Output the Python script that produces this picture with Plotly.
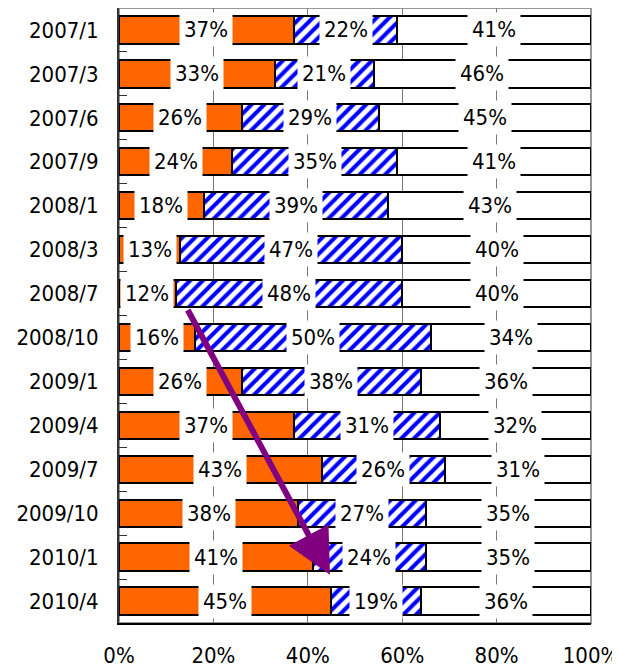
import plotly.graph_objects as go

categories = ["2007/1", "2007/3", "2007/6", "2007/9", "2008/1", "2008/3", "2008/7",
              "2008/10", "2009/1", "2009/4", "2009/7", "2009/10", "2010/1", "2010/4"]
orange_vals = [37, 33, 26, 24, 18, 13, 12, 16, 26, 37, 43, 38, 41, 45]
striped_vals = [22, 21, 29, 35, 39, 47, 48, 50, 38, 31, 26, 27, 24, 19]
white_vals = [41, 46, 45, 41, 43, 40, 40, 34, 36, 32, 31, 35, 35, 36]
x_ticks = [0, 20, 40, 60, 80, 100]
x_tick_labels = ["0%", "20%", "40%", "60%", "80%", "100%"]

FONT = "DejaVu Sans Condensed, Noto Sans CJK JP, sans-serif"

fig = go.Figure()
fig.add_trace(go.Bar(y=categories, x=orange_vals, orientation="h",
                     marker=dict(color="#FF6600", line=dict(color="black", width=2)),
                     hoverinfo="skip"))
fig.add_trace(go.Bar(y=categories, x=striped_vals, orientation="h",
                     marker=dict(color="white", line=dict(color="black", width=2),
                                 pattern=dict(shape="/", fgcolor="#0000FF", bgcolor="white",
                                              size=9, solidity=0.45, fillmode="replace",
                                              fgopacity=1)),
                     hoverinfo="skip"))
fig.add_trace(go.Bar(y=categories, x=white_vals, orientation="h",
                     marker=dict(color="white", line=dict(color="black", width=2)),
                     hoverinfo="skip"))

annotations = []
for i, c in enumerate(categories):
    start = 0
    for v in (orange_vals[i], striped_vals[i], white_vals[i]):
        annotations.append(dict(x=start + v / 2, y=c, xref="x", yref="y", text=f"{v}%",
                                showarrow=False, bgcolor="white", borderpad=4,
                                font=dict(family=FONT, size=22, color="black")))
        start += v

# purple arrow
annotations.append(dict(x=44.7, y=12.4, ax=14.4, ay=6.34, xref="x", yref="y",
                        axref="x", ayref="y", text="", showarrow=True,
                        arrowhead=2, arrowsize=1.5, arrowwidth=6, arrowcolor="#800080"))

fig.update_layout(
    barmode="stack", bargap=0.38, showlegend=False,
    width=612, height=661, margin=dict(l=111, r=29, t=0, b=46),
    plot_bgcolor="white", paper_bgcolor="white",
    annotations=annotations,
    font=dict(family=FONT, size=22, color="black"),
)
fig.update_xaxes(range=[0, 100], tickvals=x_ticks, ticktext=x_tick_labels,
                 showgrid=True, gridcolor="#777777", gridwidth=1,
                 showline=True, linecolor="black", linewidth=2,
                 ticks="", zeroline=False, layer="below traces", automargin=False,
                 ticklabelstandoff=12,
                 tickfont=dict(family=FONT, size=22))
fig.update_yaxes(autorange="reversed", showline=True, linecolor="#333333", linewidth=2,
                 ticks="inside", tickson="boundaries", ticklen=8, tickcolor="#333333",
                 automargin=False, ticklabelstandoff=14,
                 tickfont=dict(family=FONT, size=22))
fig.add_shape(type="rect", xref="paper", yref="paper", x0=0, x1=1, y0=0, y1=1,
              line=dict(color="#999999", width=2), layer="below")

fig.write_html("out.html")
